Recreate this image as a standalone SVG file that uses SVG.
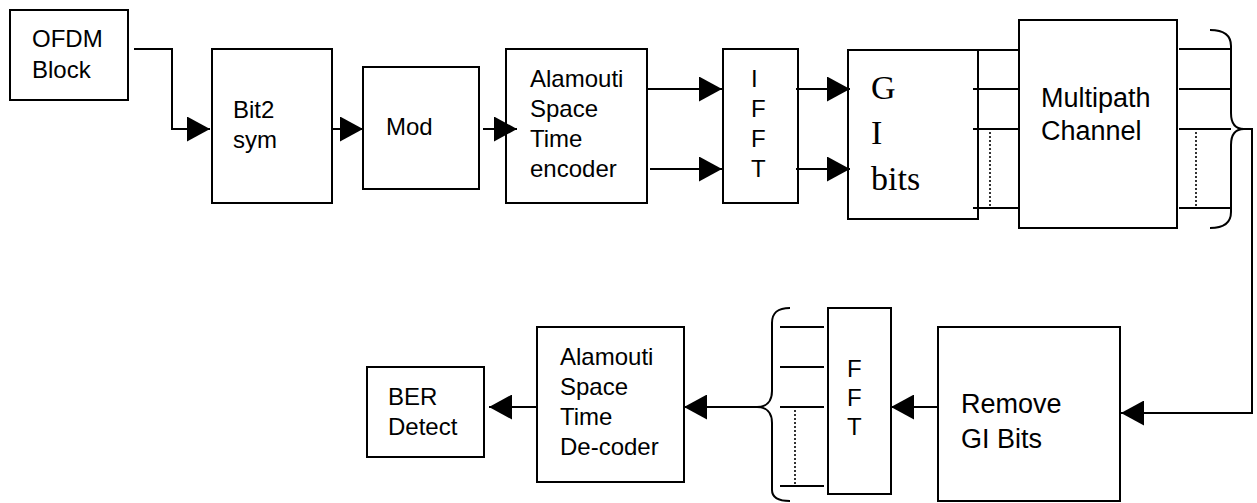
<svg xmlns="http://www.w3.org/2000/svg" width="1257" height="503" viewBox="0 0 1257 503">
<style>
.box{fill:#fff;stroke:#000;stroke-width:2}
.ln{fill:none;stroke:#000;stroke-width:2}
.dot{fill:none;stroke:#000;stroke-width:1.6;stroke-dasharray:2 2}
.t{font-family:"Liberation Sans",Arial,sans-serif;font-size:24px;fill:#000}
.t27{font-family:"Liberation Sans",Arial,sans-serif;font-size:27px;fill:#000}
.s{font-family:"Liberation Serif","Times New Roman",serif;font-size:34px;fill:#000}
.arr{marker-end:url(#ah)}
</style>
<defs>
<marker id="ah" markerUnits="userSpaceOnUse" markerWidth="23" markerHeight="25" refX="23" refY="12.5" orient="auto" viewBox="0 0 23 25">
<path d="M0,0 L23,12.5 L0,25 Z" fill="#000"/>
</marker>
</defs>
<rect width="1257" height="503" fill="#fff"/>

<g id="ofdm"><rect class="box" x="10" y="10" width="118" height="90"/><text class="t" x="32" y="47">OFDM</text><text class="t" x="32" y="78">Block</text></g>
<g id="bit2sym"><rect class="box" x="212" y="49" width="120" height="154"/><text class="t" x="233" y="118">Bit2</text><text class="t" x="233" y="148">sym</text></g>
<g id="mod"><rect class="box" x="363" y="67" width="116" height="122"/><text class="t" x="386" y="135">Mod</text></g>
<g id="encoder"><rect class="box" x="506" y="49" width="141" height="154"/><text class="t" x="530" y="87">Alamouti</text><text class="t" x="530" y="117">Space</text><text class="t" x="530" y="147">Time</text><text class="t" x="530" y="177">encoder</text></g>
<g id="ifft"><rect class="box" x="723" y="49" width="75" height="154"/><text class="t" x="751" y="87">I</text><text class="t" x="751" y="117">F</text><text class="t" x="751" y="147">F</text><text class="t" x="751" y="177">T</text></g>
<g id="gibits"><rect class="box" x="848" y="50" width="130" height="169"/><text class="s" x="871" y="99">G</text><text class="s" x="871" y="144">I</text><text class="s" x="871" y="190">bits</text></g>
<g id="multipath"><rect class="box" x="1019" y="20" width="158" height="208"/><text class="t27" x="1041" y="107">Multipath</text><text class="t27" x="1041" y="140">Channel</text></g>
<g id="removegi"><rect class="box" x="938" y="327" width="182" height="174"/><text class="t27" x="961" y="413">Remove</text><text class="t27" x="961" y="448">GI Bits</text></g>
<g id="fft"><rect class="box" x="828" y="308" width="63" height="186"/><text class="t" x="847" y="377">F</text><text class="t" x="847" y="406">F</text><text class="t" x="847" y="435">T</text></g>
<g id="decoder"><rect class="box" x="537" y="327" width="147" height="155"/><text class="t" x="560" y="365">Alamouti</text><text class="t" x="560" y="395">Space</text><text class="t" x="560" y="425">Time</text><text class="t" x="560" y="455">De-coder</text></g>
<g id="ber"><rect class="box" x="367" y="367" width="117" height="90"/><text class="t" x="388" y="405">BER</text><text class="t" x="388" y="435">Detect</text></g>

<g id="connectors">
<polyline class="ln arr" points="134,49 172,49 172,129 210,129"/>
<line class="ln arr" x1="332" y1="129" x2="363" y2="129"/>
<line class="ln arr" x1="483" y1="129" x2="517" y2="129"/>
<line class="ln arr" x1="647" y1="89" x2="722" y2="89"/>
<line class="ln arr" x1="650" y1="169" x2="722" y2="169"/>
<line class="ln arr" x1="796" y1="89" x2="850" y2="89"/>
<line class="ln arr" x1="796" y1="169" x2="850" y2="169"/>
<line class="ln" x1="978" y1="50" x2="1019" y2="50"/>
<line class="ln" x1="973" y1="89" x2="1019" y2="89"/>
<line class="ln" x1="973" y1="129" x2="1019" y2="129"/>
<line class="ln" x1="973" y1="208" x2="1019" y2="208"/>
<line class="dot" x1="990" y1="132" x2="990" y2="207"/>
<line class="ln" x1="1179" y1="49" x2="1231" y2="49"/>
<line class="ln" x1="1179" y1="89" x2="1231" y2="89"/>
<line class="ln" x1="1179" y1="129" x2="1231" y2="129"/>
<line class="ln" x1="1179" y1="208" x2="1231" y2="208"/>
<line class="dot" x1="1196" y1="132" x2="1196" y2="207"/>
<path class="ln" d="M1210,30 C1225,30 1231,36 1231,46 L1231,113 C1231,124 1236,129 1244,129 C1236,129 1231,134 1231,145 L1231,212 C1231,222 1225,228 1210,228"/>
<polyline class="ln arr" points="1244,129 1252,129 1252,413 1121,413"/>
<line class="ln arr" x1="938" y1="407" x2="891" y2="407"/>
<line class="ln" x1="780" y1="327" x2="824" y2="327"/>
<line class="ln" x1="780" y1="367" x2="824" y2="367"/>
<line class="ln" x1="780" y1="407" x2="824" y2="407"/>
<line class="ln" x1="780" y1="486" x2="824" y2="486"/>
<line class="dot" x1="795" y1="410" x2="795" y2="486"/>
<path class="ln" d="M790,308 C777,308 772,313 772,323 L772,391 C772,402 766,407 757,407 C766,407 772,412 772,423 L772,490 C772,497 777,501 790,501"/>
<line class="ln arr" x1="757" y1="407" x2="684" y2="407"/>
<line class="ln arr" x1="538" y1="407" x2="489" y2="407"/>
</g>
</svg>
